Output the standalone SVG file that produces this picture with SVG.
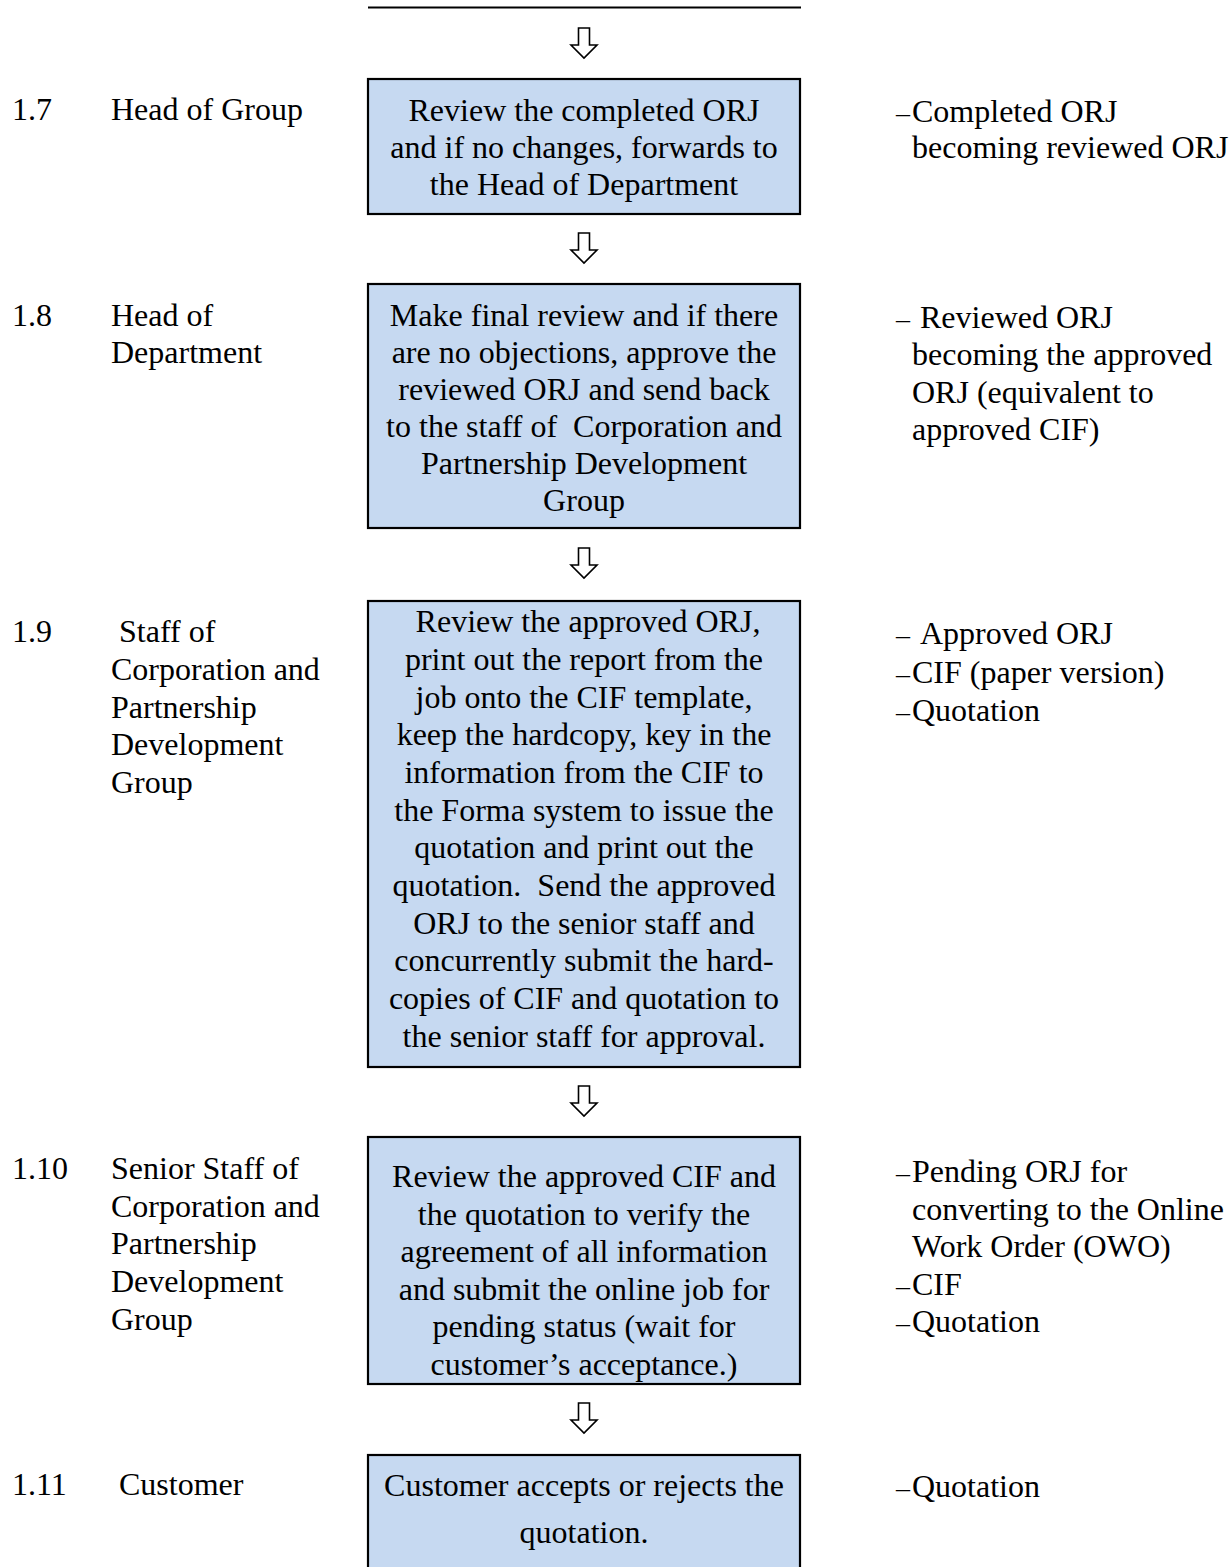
<svg xmlns="http://www.w3.org/2000/svg" width="1232" height="1567" viewBox="0 0 1232 1567">
<style>
text{font-family:"Liberation Serif","Times New Roman",serif;font-size:32px;fill:#000}
.c{text-anchor:middle}
.d{font-size:28px}
.box{fill:#c6d9f1;stroke:#000;stroke-width:2.2}
.arr{fill:#fff;stroke:#000;stroke-width:1.6;stroke-linejoin:miter}
</style>
<defs>
<path id="dn" class="arr" d="M-5.5,0 H5.5 V17 H13 L0,30 L-13,17 H-5.5 Z"/>
</defs>
<g id="connectors">
<line x1="368" y1="7.5" x2="801" y2="7.5" stroke="#000" stroke-width="2.2"/>
<use href="#dn" x="584" y="28"/>
<use href="#dn" x="584" y="233"/>
<use href="#dn" x="584" y="548"/>
<use href="#dn" x="584" y="1086"/>
<use href="#dn" x="584" y="1403"/>
</g>
<g id="step-1-7">
<text x="12" y="120">1.7</text>
<text x="111" y="120">Head of Group</text>
<rect class="box" x="368" y="79" width="432" height="135"/>
<text class="c" x="584" y="121">Review the completed ORJ</text>
<text class="c" x="584" y="158">and if no changes, forwards to</text>
<text class="c" x="584" y="195">the Head of Department</text>
<text class="d" x="896" y="122">–</text>
<text x="912" y="122">Completed ORJ</text>
<text x="912" y="158">becoming reviewed ORJ</text>
</g>
<g id="step-1-8">
<text x="12" y="326">1.8</text>
<text x="111" y="326">Head of</text>
<text x="111" y="363">Department</text>
<rect class="box" x="368" y="284" width="432" height="244"/>
<text class="c" x="584" y="326">Make final review and if there</text>
<text class="c" x="584" y="363">are no objections, approve the</text>
<text class="c" x="584" y="400">reviewed ORJ and send back</text>
<text class="c" x="584" y="437" xml:space="preserve">to the staff of  Corporation and</text>
<text class="c" x="584" y="474">Partnership Development</text>
<text class="c" x="584" y="511">Group</text>
<text class="d" x="896" y="328">–</text>
<text x="920" y="328">Reviewed ORJ</text>
<text x="912" y="365">becoming the approved</text>
<text x="912" y="403">ORJ (equivalent to</text>
<text x="912" y="440">approved CIF)</text>
</g>
<g id="step-1-9">
<text x="12" y="642">1.9</text>
<text x="119" y="642">Staff of</text>
<text x="111" y="680">Corporation and</text>
<text x="111" y="718">Partnership</text>
<text x="111" y="755">Development</text>
<text x="111" y="793">Group</text>
<rect class="box" x="368" y="601" width="432" height="466"/>
<text class="c" x="588" y="632">Review the approved ORJ,</text>
<text class="c" x="584" y="670">print out the report from the</text>
<text class="c" x="584" y="708">job onto the CIF template,</text>
<text class="c" x="584" y="745">keep the hardcopy, key in the</text>
<text class="c" x="584" y="783">information from the CIF to</text>
<text class="c" x="584" y="821">the Forma system to issue the</text>
<text class="c" x="584" y="858">quotation and print out the</text>
<text class="c" x="584" y="896" xml:space="preserve">quotation.  Send the approved</text>
<text class="c" x="584" y="934">ORJ to the senior staff and</text>
<text class="c" x="584" y="971">concurrently submit the hard-</text>
<text class="c" x="584" y="1009">copies of CIF and quotation to</text>
<text class="c" x="584" y="1047">the senior staff for approval.</text>
<text class="d" x="896" y="644">–</text>
<text x="920" y="644">Approved ORJ</text>
<text class="d" x="896" y="683">–</text>
<text x="912" y="683">CIF (paper version)</text>
<text class="d" x="896" y="721">–</text>
<text x="912" y="721">Quotation</text>
</g>
<g id="step-1-10">
<text x="12" y="1179">1.10</text>
<text x="111" y="1179">Senior Staff of</text>
<text x="111" y="1217">Corporation and</text>
<text x="111" y="1254">Partnership</text>
<text x="111" y="1292">Development</text>
<text x="111" y="1330">Group</text>
<rect class="box" x="368" y="1137" width="432" height="247"/>
<text class="c" x="584" y="1187">Review the approved CIF and</text>
<text class="c" x="584" y="1225">the quotation to verify the</text>
<text class="c" x="584" y="1262">agreement of all information</text>
<text class="c" x="584" y="1300">and submit the online job for</text>
<text class="c" x="584" y="1337">pending status (wait for</text>
<text class="c" x="584" y="1375">customer’s acceptance.)</text>
<text class="d" x="896" y="1182">–</text>
<text x="912" y="1182">Pending ORJ for</text>
<text x="912" y="1220">converting to the Online</text>
<text x="912" y="1257">Work Order (OWO)</text>
<text class="d" x="896" y="1295">–</text>
<text x="912" y="1295">CIF</text>
<text class="d" x="896" y="1332">–</text>
<text x="912" y="1332">Quotation</text>
</g>
<g id="step-1-11">
<text x="12" y="1495">1.11</text>
<text x="119" y="1495">Customer</text>
<rect class="box" x="368" y="1455" width="432" height="140"/>
<text class="c" x="584" y="1496">Customer accepts or rejects the</text>
<text class="c" x="584" y="1543">quotation.</text>
<text class="d" x="896" y="1497">–</text>
<text x="912" y="1497">Quotation</text>
</g>
</svg>
